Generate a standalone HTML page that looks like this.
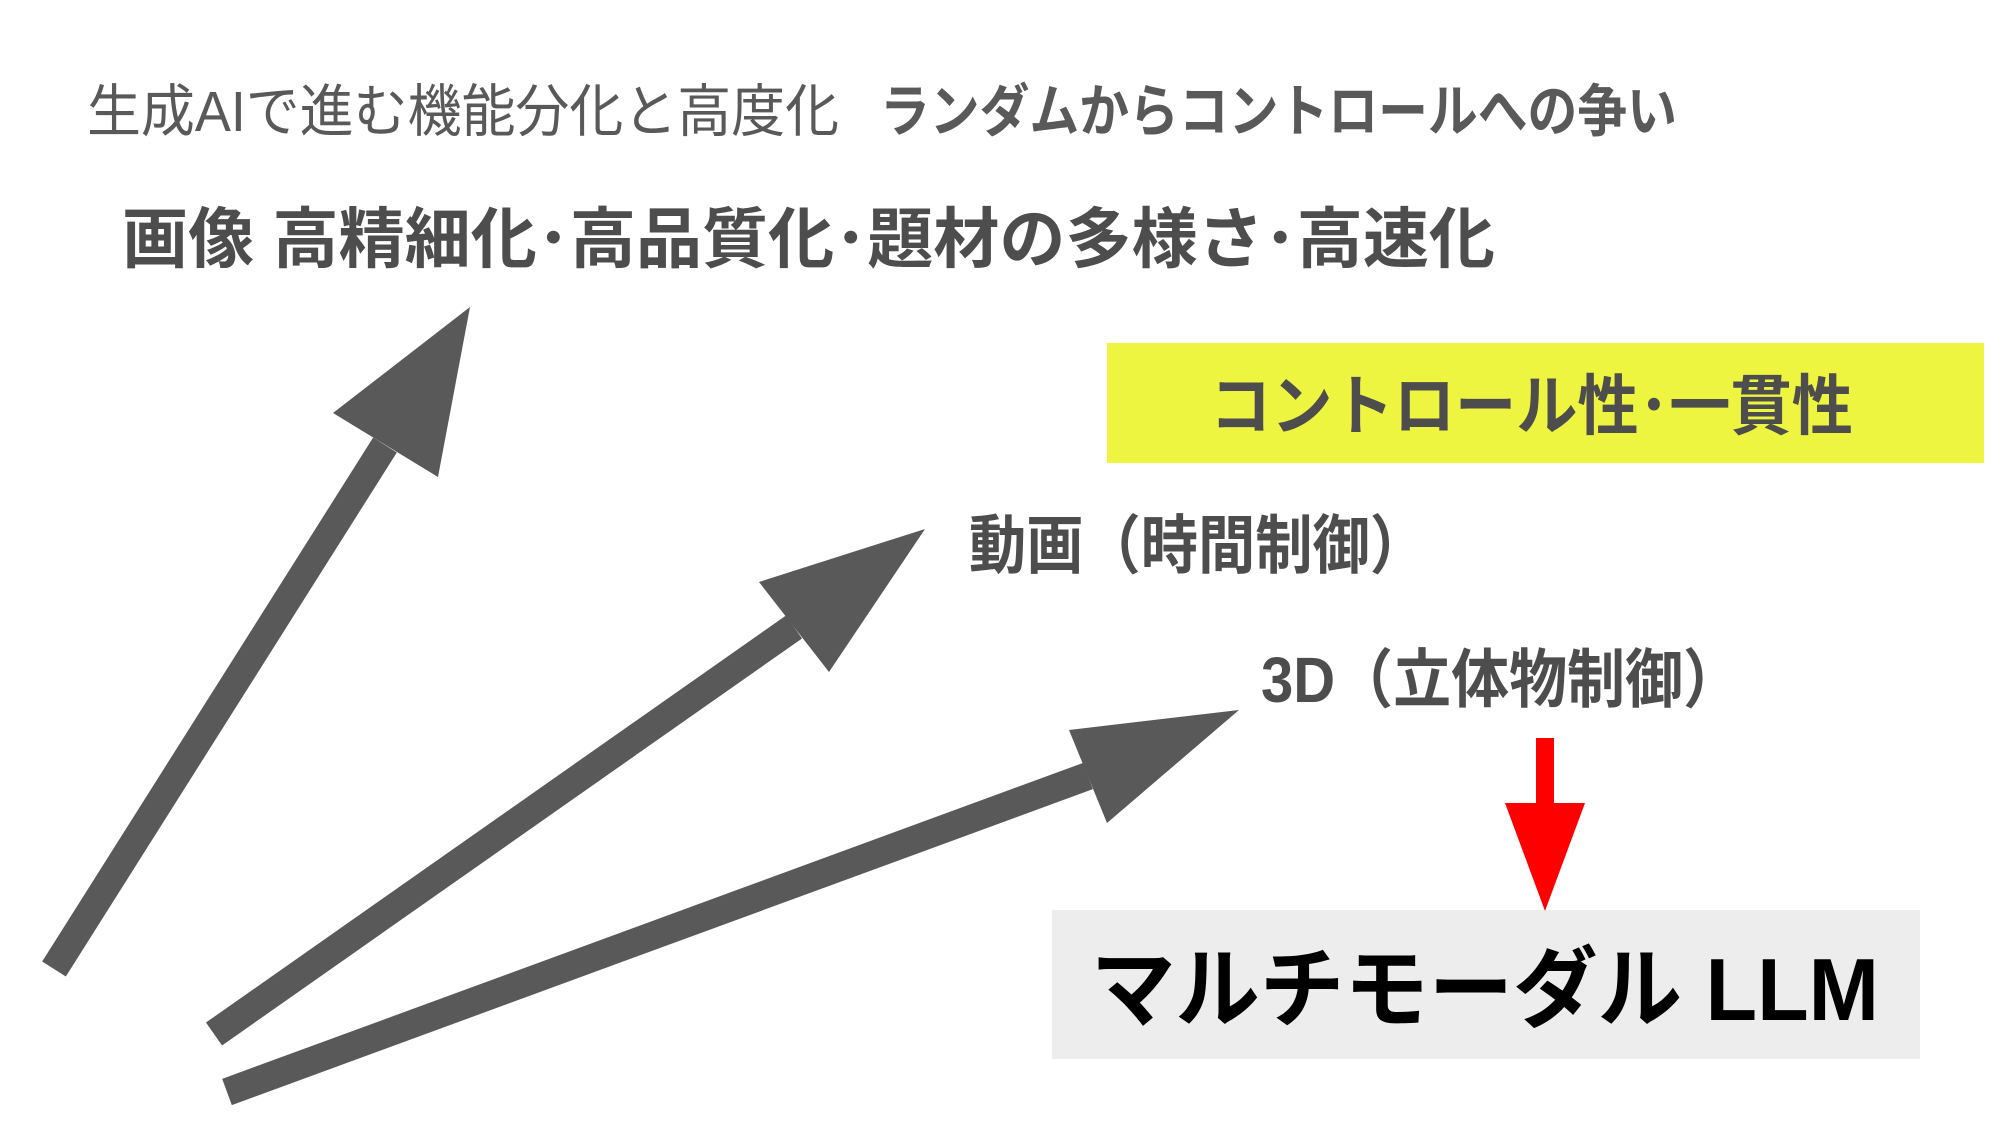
<!DOCTYPE html>
<html><head><meta charset="utf-8"><style>
html,body{margin:0;padding:0;background:#fff;width:2000px;height:1125px;overflow:hidden}
svg text{font-family:"Liberation Sans","Noto Sans CJK JP",sans-serif}
</style></head><body>
<svg width="2000" height="1125" viewBox="0 0 2000 1125" xmlns="http://www.w3.org/2000/svg">
<rect width="2000" height="1125" fill="#fff"/>
<text x="87" y="131" font-size="57" fill="#595959" textLength="752" lengthAdjust="spacingAndGlyphs">生成AIで進む機能分化と高度化</text>
<text x="880" y="131" font-size="57" font-weight="bold" fill="#595959" textLength="797" lengthAdjust="spacingAndGlyphs">ランダムからコントロールへの争い</text>
<text x="122" y="262" font-size="66" font-weight="bold" fill="#4d4d4d" textLength="1373" lengthAdjust="spacingAndGlyphs">画像 高精細化･高品質化･題材の多様さ･高速化</text>
<rect x="1107" y="343" width="877" height="120" fill="#eef540"/>
<text x="1210" y="429" font-size="66" font-weight="bold" fill="#4d4d4d" textLength="643" lengthAdjust="spacingAndGlyphs">コントロール性･一貫性</text>
<text x="969" y="568" font-size="64" font-weight="bold" fill="#4d4d4d" textLength="458" lengthAdjust="spacingAndGlyphs">動画（時間制御）</text>
<text x="1261" y="702" font-size="64" font-weight="bold" fill="#4d4d4d" textLength="480" lengthAdjust="spacingAndGlyphs">3D（立体物制御）</text>
<rect x="1052" y="910" width="868" height="149" fill="#ededed"/>
<text x="1091" y="1020" font-size="88" font-weight="bold" fill="#000" textLength="788" lengthAdjust="spacingAndGlyphs">マルチモーダル LLM</text>
<rect x="1536" y="738" width="18" height="70" fill="#ff0000"/>
<polygon points="1505,803 1585,803 1545,911" fill="#ff0000"/>
<g fill="#595959" stroke="#595959">
<line x1="54" y1="969" x2="385" y2="445" stroke-width="28"/>
<polygon points="470,307 333,413 438,477" stroke="none"/>
<line x1="214" y1="1034" x2="794" y2="627" stroke-width="28"/>
<polygon points="925,529 759,582 829,672" stroke="none"/>
<line x1="227" y1="1092" x2="1088" y2="776" stroke-width="28"/>
<polygon points="1239,710 1069,730 1107,823" stroke="none"/>
</g>
</svg>
</body></html>
